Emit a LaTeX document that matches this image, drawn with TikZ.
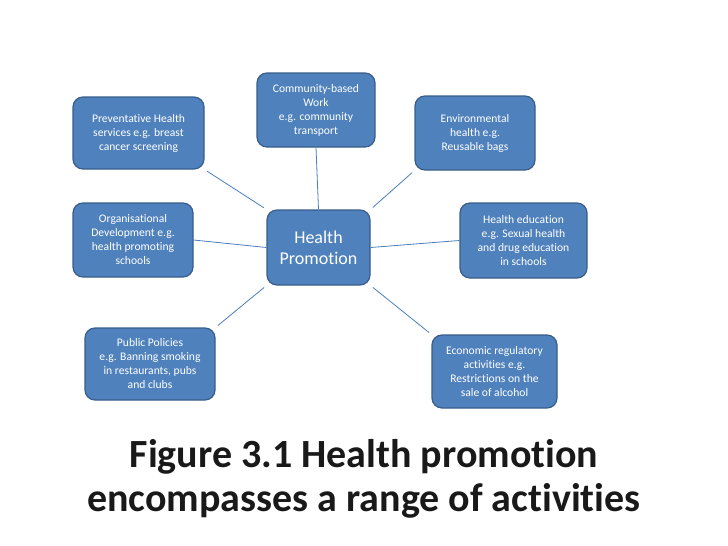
\documentclass[tikz,border=0pt]{standalone}
\usepackage{fontspec}
\setmainfont{Carlito}[Ligatures=NoCommon]
\usepackage{tikz}
\definecolor{boxblue}{RGB}{79,129,189}
\definecolor{boxedge}{RGB}{56,93,138}
\definecolor{linkblue}{RGB}{74,126,187}

\begin{document}
\begin{tikzpicture}[x=1pt,y=-1pt,
  area/.style={draw=boxedge,line width=1.2pt,fill=boxblue,rounded corners=10pt,
    text=white,align=center,inner sep=0pt,font=\fontsize{11.6}{14}\selectfont},
  link/.style={draw=linkblue,line width=0.8pt}]
\useasboundingbox (0,0) rectangle (728,546);
\node[area,minimum width=103pt,minimum height=75pt,font=\fontsize{18}{21}\selectfont] (hp) at (318.5,247.5) {Health\\Promotion};
\node[area,minimum width=118pt,minimum height=74pt] (comm) at (316,110) {Community-based\\Work\\e.g. community\\transport};
\node[area,minimum width=131pt,minimum height=72pt] (prev) at (138.5,133) {Preventative Health\\services e.g. breast\\cancer screening};
\node[area,minimum width=120pt,minimum height=74pt] (env) at (475,133) {Environmental\\health e.g.\\Reusable bags};
\node[area,minimum width=120pt,minimum height=74pt] (org) at (133,240) {Organisational\\Development e.g.\\health promoting\\schools};
\node[area,minimum width=127pt,minimum height=75pt] (edu) at (523.5,240.5) {Health education\\e.g. Sexual health\\and drug education\\in schools};
\node[area,minimum width=130pt,minimum height=72pt] (pub) at (150,364) {Public Policies\\e.g. Banning smoking\\in restaurants, pubs\\and clubs};
\node[area,minimum width=125pt,minimum height=73pt] (eco) at (494.5,371.5) {Economic regulatory\\activities e.g.\\Restrictions on the\\sale of alcohol};
% spokes
\draw[link,shorten <=3pt,shorten >=3pt] (prev.south east) -- (hp.north west);
\draw[link] (comm.south) -- (hp.north);
\draw[link,shorten <=3pt,shorten >=3pt] (env.south west) -- (hp.north east);
\draw[link] (org.east) -- (hp.west);
\draw[link] (edu.west) -- (hp.east);
\draw[link,shorten <=3pt,shorten >=3pt] (pub.north east) -- (hp.south west);
\draw[link,shorten <=3pt,shorten >=3pt] (eco.north west) -- (hp.south east);
% caption
\node[align=center,font=\fontsize{40}{44}\selectfont\bfseries,text=black!90] (title) at (364,479) {Figure 3.1 Health promotion\\encompasses a range of activities};
\end{tikzpicture}
\end{document}
